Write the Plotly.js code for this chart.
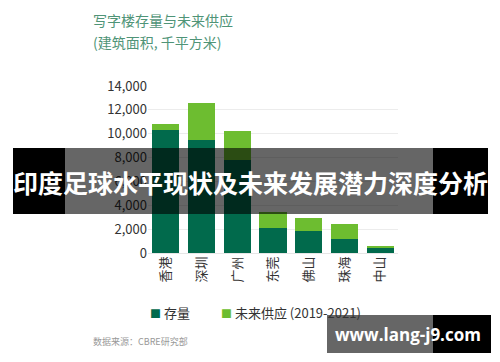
<!DOCTYPE html>
<html><head><meta charset="utf-8">
<script src="https://cdn.plot.ly/plotly-3.0.1.min.js"></script>
<style>html,body{margin:0;padding:0;background:#fff;}#c{width:500px;height:362px;}</style>
</head><body><div id="c"></div>
<script>
const cities = ["香港","深圳","广州","东莞","佛山","珠海","中山"];
const stock = [10300, 9500, 7800, 2100, 1850, 1150, 400];
const future = [480, 3100, 2400, 1330, 1100, 1270, 170];
const seriesNames = ["存量", "未来供应 (2019-2021)"];
const seriesColors = ['#016a4c', '#6dbd30'];
const yTicks = [0, 2000, 4000, 6000, 8000, 10000, 12000, 14000];

const L = 148, R = 398, T = 86, B = 253;
const px = x => (x - L) / (R - L);
const py = y => (B - y) / (B - T);
const rect = (x0, y0, x1, y1, color) => ({type:'rect', xref:'paper', yref:'paper', layer:'above',
  x0:px(x0), x1:px(x1), y0:py(y1), y1:py(y0), fillcolor:color, line:{width:0}});

const cjk = '"Noto Sans CJK SC", "Noto Sans", sans-serif';
const data = [
  {type:'bar', x:cities, y:stock, name:seriesNames[0], marker:{color:seriesColors[0]}, hoverinfo:'none'},
  {type:'bar', x:cities, y:future, name:seriesNames[1], marker:{color:seriesColors[1]}, hoverinfo:'none'}
];
const legendAnn = (x, i) => ({text:'<span style="color:' + seriesColors[i] + ';font-size:11px">■</span> ' + seriesNames[i],
  xref:'paper', yref:'paper', x:px(x), y:py(312), xanchor:'left', yanchor:'middle', showarrow:false,
  font:{size:13, color:'#333', family:cjk}});
const layout = {
  width:500, height:362,
  margin:{l:L, r:500-R, t:T, b:362-B, pad:0},
  paper_bgcolor:'#fff', plot_bgcolor:'#fff',
  barmode:'stack', bargap:0.24,
  font:{family:cjk, color:'#333', size:13},
  showlegend:false,
  xaxis:{tickangle:-90, showgrid:false, showline:false, ticks:'', tickfont:{size:13, color:'#333'}},
  yaxis:{range:[0,14000], tickvals:yTicks, tickformat:',d', showgrid:true, gridcolor:'#ececec',
    zeroline:true, zerolinecolor:'#e6e6e6', ticks:'', ticklen:0, tickfont:{size:13, color:'#333'},
    automargin:false},
  shapes:[
    rect(13,148,65,214,'#000'),
    rect(65,148,433,214,'rgba(0,0,0,0.6)'),
    rect(433,148,488,214,'#000'),
    rect(327,315,433,353,'rgba(0,0,0,0.6)'),
    rect(433,315,491,353,'#000')
  ],
  annotations:[
    legendAnn(148, 0),
    legendAnn(219, 1),
    {text:'写字楼存量与未来供应', xref:'paper', yref:'paper', x:px(91), y:py(20), xanchor:'left', yanchor:'middle',
      showarrow:false, font:{size:14, color:'#4f9477', family:cjk}},
    {text:'(建筑面积, 千平方米)', xref:'paper', yref:'paper', x:px(91), y:py(42), xanchor:'left', yanchor:'middle',
      showarrow:false, font:{size:14, color:'#4f9477', family:cjk}},
    {text:'数据来源：CBRE研究部', xref:'paper', yref:'paper', x:px(91), y:py(341), xanchor:'left', yanchor:'middle',
      showarrow:false, font:{size:9, color:'#999', family:cjk}},
    {text:'<b>印度足球水平现状及未来发展潜力深度分析</b>', xref:'paper', yref:'paper', x:px(250), y:py(182), xanchor:'center', yanchor:'middle',
      showarrow:false, font:{size:25, color:'#fff', family:cjk}},
    {text:'<b>www.lang-j9.com</b>', xref:'paper', yref:'paper', x:px(408), y:py(334), xanchor:'center', yanchor:'middle',
      showarrow:false, font:{size:17, color:'#fff', family:'"Open Sans", sans-serif'}}
  ]
};
Plotly.newPlot('c', data, layout, {staticPlot:true, displayModeBar:false});
</script></body></html>
